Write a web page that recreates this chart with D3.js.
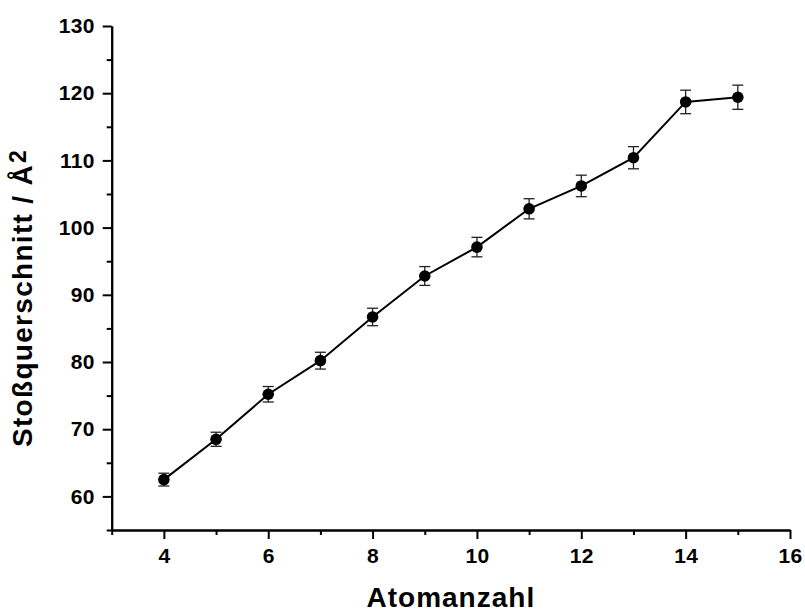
<!DOCTYPE html>
<html>
<head>
<meta charset="utf-8">
<script src="https://cdn.jsdelivr.net/npm/d3@7"></script>
<style>
  html, body { margin: 0; padding: 0; background: #fff; }
  svg { display: block; }
  text { font-family: "Liberation Sans", Arial, sans-serif; font-weight: bold; fill: #000; }
</style>
</head>
<body>
<svg id="chart" width="805" height="612"></svg>
<script>
// ---- data ----
const atomCount = [4, 5, 6, 7, 8, 9, 10, 11, 12, 13, 14, 15];
const crossSection = [62.5, 68.5, 75.2, 80.2, 86.7, 92.8, 97.1, 102.8, 106.2, 110.4, 118.7, 119.4];
const crossSectionErr = [0.95, 1.05, 1.15, 1.25, 1.3, 1.4, 1.45, 1.5, 1.6, 1.65, 1.75, 1.8];
const xMajorTicks = [4, 6, 8, 10, 12, 14, 16];
const xMinorTicks = [3, 5, 7, 9, 11, 13, 15];
const yMajorTicks = [60, 70, 80, 90, 100, 110, 120, 130];
const yMinorTicks = [55, 65, 75, 85, 95, 105, 115, 125];
const xTitle = "Atomanzahl";
const yTitle = "Stoßquerschnitt / Å";
const yTitleSup = "2";

// ---- layout ----
const svg = d3.select("#chart");
const mLeft = 111.7, mRight = 790, mTop = 26, mBottom = 530;
const x = d3.scaleLinear().domain([3, 16]).range([mLeft, mRight]);
const y = d3.scaleLinear().domain([55, 130]).range([mBottom, mTop]);

// axes
function styleAxis(g) {
  g.select(".domain").attr("stroke", "#000").attr("stroke-width", 2);
  g.selectAll(".tick line").attr("stroke", "#000").attr("stroke-width", 2);
}
function styleLabels(g) {
  g.selectAll(".tick text")
    .style("font-size", "21px")
    .style("font-family", '"Liberation Sans", Arial, sans-serif')
    .style("font-weight", "bold")
    .style("letter-spacing", "0.3px")
    .attr("fill", "#000");
}

const gxMinor = svg.append("g").attr("transform", `translate(0,${mBottom})`)
  .call(d3.axisBottom(x).tickValues(xMinorTicks).tickSize(5).tickSizeOuter(0).tickFormat(""));
styleAxis(gxMinor);
const gx = svg.append("g").attr("transform", `translate(0,${mBottom})`)
  .call(d3.axisBottom(x).tickValues(xMajorTicks).tickSize(9).tickSizeOuter(0).tickPadding(9).tickFormat(d3.format("d")));
styleAxis(gx);
styleLabels(gx);

const gyMinor = svg.append("g").attr("transform", `translate(${mLeft},0)`)
  .call(d3.axisLeft(y).tickValues(yMinorTicks).tickSize(5).tickSizeOuter(0).tickFormat(""));
styleAxis(gyMinor);
const gy = svg.append("g").attr("transform", `translate(${mLeft},0)`)
  .call(d3.axisLeft(y).tickValues(yMajorTicks).tickSize(9).tickSizeOuter(0).tickPadding(8).tickFormat(d3.format("d")));
styleAxis(gy);
styleLabels(gy);

// titles
svg.append("text")
  .attr("x", (mLeft + mRight) / 2).attr("y", 607)
  .attr("text-anchor", "middle")
  .style("font-size", "28px")
  .style("letter-spacing", "1px")
  .text(xTitle);

const yt = svg.append("text")
  .attr("transform", `translate(31.5,447) rotate(-90)`)
  .attr("text-anchor", "start")
  .style("font-size", "28px")
  .style("letter-spacing", "1.3px");
yt.append("tspan").text(yTitle);
yt.append("tspan").attr("dy", -6).attr("dx", 1).style("font-size", "23px").text(yTitleSup);

// data
const data = atomCount.map((a, i) => ({ a, v: crossSection[i], e: crossSectionErr[i] }));

// line
svg.append("path")
  .datum(data)
  .attr("fill", "none")
  .attr("stroke", "#000")
  .attr("stroke-width", 2)
  .attr("d", d3.line().x(d => x(d.a)).y(d => y(d.v)));

// error bars
const eb = svg.append("g").attr("stroke", "#222").attr("stroke-width", 1.3).attr("fill", "none");
data.forEach(d => {
  const cx = x(d.a);
  eb.append("line").attr("x1", cx).attr("x2", cx).attr("y1", y(d.v - d.e)).attr("y2", y(d.v + d.e));
  eb.append("line").attr("x1", cx - 5.5).attr("x2", cx + 5.5).attr("y1", y(d.v - d.e)).attr("y2", y(d.v - d.e));
  eb.append("line").attr("x1", cx - 5.5).attr("x2", cx + 5.5).attr("y1", y(d.v + d.e)).attr("y2", y(d.v + d.e));
});

// markers
svg.append("g").selectAll("circle")
  .data(data)
  .join("circle")
  .attr("cx", d => x(d.a))
  .attr("cy", d => y(d.v))
  .attr("r", 5.8)
  .attr("fill", "#000");
</script>
</body>
</html>
